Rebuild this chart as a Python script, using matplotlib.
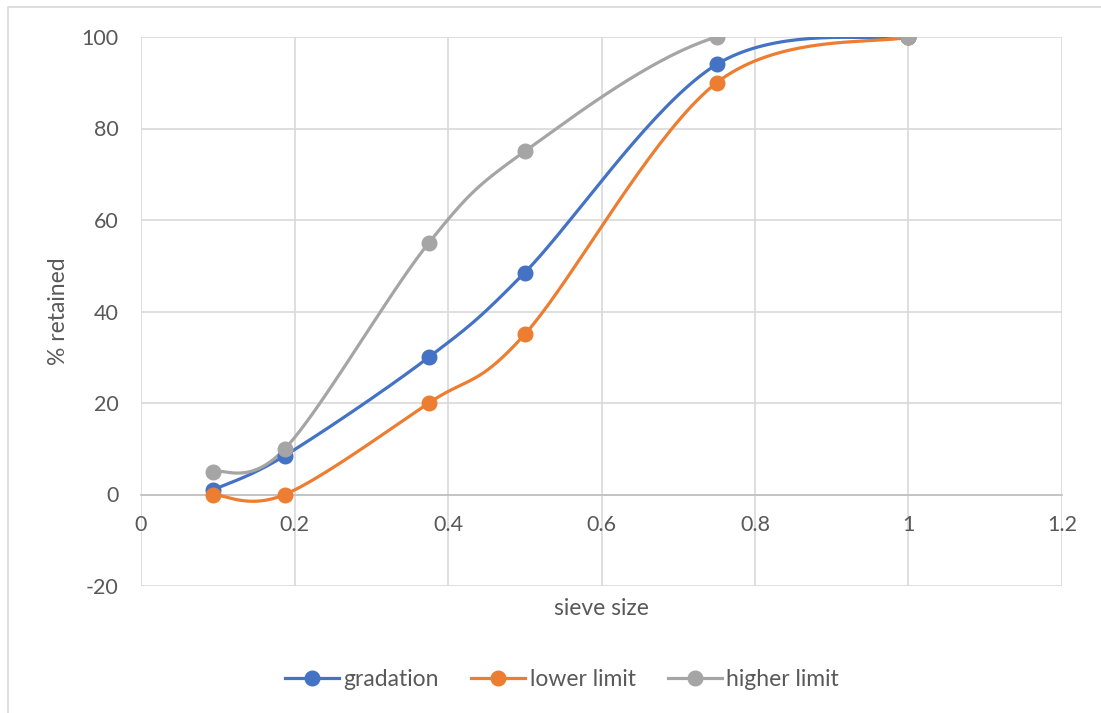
import numpy as np
import matplotlib.pyplot as plt
from matplotlib.patches import Rectangle

# sieve sizes (in) and percent retained
sieve = [0.09375, 0.1875, 0.375, 0.5, 0.75, 1.0]
gradation = [1, 8.5, 30, 48.5, 94, 100]
lower_limit = [0, 0, 20, 35, 90, 100]
higher_limit = [5, 10, 55, 75, 100, 100]

colors = {'gradation': '#4472C4', 'lower limit': '#ED7D31', 'higher limit': '#A5A5A5'}
text_color = '#595959'
grid_color = '#D9D9D9'

plt.rcParams['font.family'] = ['Lato', 'DejaVu Sans']
plt.rcParams['axes.unicode_minus'] = False


def smooth_curve(ax, xs, ys, n=40):
    # spreadsheet-style smoothing: cubic bezier with catmull-rom control
    # points, worked out in screen space
    pts = ax.transData.transform(np.column_stack([xs, ys]))
    out = []
    for i in range(len(pts) - 1):
        p0 = pts[i - 1] if i > 0 else pts[i]
        p1 = pts[i]
        p2 = pts[i + 1]
        p3 = pts[i + 2] if i + 2 < len(pts) else pts[i + 1]
        c1 = p1 + (p2 - p0) / 6
        c2 = p2 - (p3 - p1) / 6
        t = np.linspace(0, 1, n)[:, None]
        seg = ((1 - t) ** 3 * p1 + 3 * (1 - t) ** 2 * t * c1
               + 3 * (1 - t) * t ** 2 * c2 + t ** 3 * p2)
        out.append(seg if i == 0 else seg[1:])
    curve = ax.transData.inverted().transform(np.vstack(out))
    return curve[:, 0], curve[:, 1]


fig = plt.figure(figsize=(11.01, 7.13), dpi=100)
ax = fig.add_axes([141 / 1101, 1 - 586 / 713, (1062 - 141) / 1101, (586 - 37) / 713])

ax.set_xlim(0, 1.2)
ax.set_ylim(-20, 100)
ax.set_xticks(np.arange(0, 1.21, 0.2))
ax.set_xticklabels(['0', '0.2', '0.4', '0.6', '0.8', '1', '1.2'])
ax.set_yticks(np.arange(-20, 101, 20))
ax.grid(True, color=grid_color, linewidth=1.2)
ax.set_axisbelow(True)

for side in ['top', 'right', 'left']:
    ax.spines[side].set_visible(False)
ax.spines['bottom'].set_position(('data', 0))
ax.spines['bottom'].set_color('#BFBFBF')
ax.spines['bottom'].set_linewidth(1.2)
ax.spines['bottom'].set_zorder(1)

ax.tick_params(axis='both', length=0, labelsize=15.5, colors=text_color)
ax.tick_params(axis='y', pad=16)
ax.tick_params(axis='x', pad=15)

for name, vals in [('gradation', gradation), ('lower limit', lower_limit),
                   ('higher limit', higher_limit)]:
    cx, cy = smooth_curve(ax, sieve, vals)
    ax.plot(cx, cy, color=colors[name], linewidth=2.3, solid_capstyle='round', zorder=3)
    ax.plot(sieve, vals, 'o', color=colors[name], markersize=10.5, zorder=4)
    ax.plot([], [], color=colors[name], linewidth=2.3, marker='o', markersize=10.5, label=name)

ax.set_xlabel('sieve size', fontsize=16.5, color=text_color)
ax.xaxis.set_label_coords(0.5, -0.021)
ax.set_ylabel('% retained', fontsize=16.5, color=text_color)
ax.yaxis.set_label_coords(-0.078, 0.5)

fig.legend(loc='center', bbox_to_anchor=(562 / 1101, 1 - 680 / 713), ncol=3,
           frameon=False, fontsize=16.5, labelcolor=text_color, handlelength=2.35,
           handletextpad=0.2, columnspacing=1.4)

# chart area border
fig.patches.append(Rectangle((8 / 1101, -0.1), 1.2, 1 - 7 / 713 + 0.1,
                             transform=fig.transFigure, fill=False,
                             edgecolor=grid_color, linewidth=1.2))

fig.savefig('out.png', dpi=100)
